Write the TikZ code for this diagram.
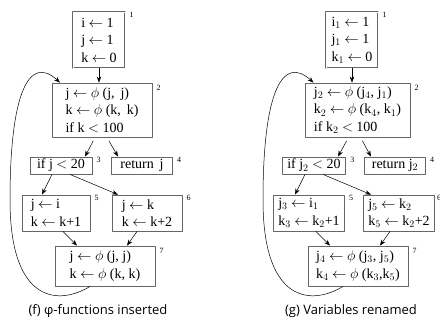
\documentclass[tikz,border=0pt]{standalone}
\usepackage{fontspec}
\setmainfont{Liberation Serif}
\newfontfamily\capfont{Open Sans}
\usetikzlibrary{arrows.meta}
\begin{document}
\begin{tikzpicture}[x=1pt, y=-1pt, line join=round, line cap=round, >={Stealth[length=6pt,width=4.5pt]},
  blk/.style={draw=black!60, line width=0.8pt, inner xsep=5pt, inner ysep=2pt, align=left,
    font=\fontsize{14}{17.5}\selectfont},
  first/.style={blk, double=white, double distance=0.7pt, line width=0.6pt},
  num/.style={anchor=north west, inner sep=0pt, font=\fontsize{8}{9}\selectfont},
  flow/.style={->, line width=0.5pt},
  captext/.style={font=\capfont\fontsize{13}{15}\selectfont}]
  \useasboundingbox (0,0) rectangle (440,325);

  % (f) phi-functions inserted
  \node[first, minimum width=52, minimum height=56] (l1) at (99,40) {i $\leftarrow$ 1\\j $\leftarrow$ 1\\k $\leftarrow$ 0};
  \node[blk, minimum width=100, minimum height=54] (l2) at (102,110) {j $\leftarrow$ $\phi$ (j,\, j)\\k $\leftarrow$ $\phi$ (k,\, k)\\if k $<$ 100};
  \node[blk, minimum width=62, minimum height=17] (l3) at (61,165.5) {if j $<$ 20};
  \node[blk, minimum width=61, minimum height=17] (l4) at (142,165.5) {return\, j};
  \node[blk, minimum width=68, minimum height=36] (l5) at (56,213) {j $\leftarrow$ i\\k $\leftarrow$ k+1};
  \node[blk, minimum width=70, minimum height=36] (l6) at (147,213) {j $\leftarrow$ k\\k $\leftarrow$ k+2};
  \node[blk, minimum width=100, minimum height=40] (l7) at (105,266) {j $\leftarrow$ $\phi$ (j, j)\\k $\leftarrow$ $\phi$ (k, k)};

  \node[num] (ln1) at ([xshift=4pt]l1.north east) {1};
  \node[num] (ln2) at ([xshift=4pt,yshift=-2pt]l2.north east) {2};
  \node[num] (ln3) at ([xshift=4pt]l3.north east) {3};
  \node[num] (ln4) at ([xshift=4pt]l4.north east) {4};
  \node[num] (ln5) at ([xshift=4pt]l5.north east) {5};
  \node[num] (ln6) at ([xshift=4pt]l6.north east) {6};
  \node[num] (ln7) at ([xshift=4pt,yshift=-2pt]l7.north east) {7};

  \draw[flow] (l1.south) -- (l1.south |- l2.north);
  \draw[flow, shorten <=4pt] ([xshift=-7pt]l2.south) -- ([xshift=24pt]l3.north);
  \draw[flow, shorten <=4pt] ([xshift=5pt]l2.south) -- ([xshift=-24pt]l4.north);
  \draw[flow] ([xshift=-9pt]l3.south) -- ([xshift=-14pt]l5.north);
  \draw[flow] ([xshift=9pt]l3.south) -- ([xshift=-29pt]l6.north);
  \draw[flow] ([xshift=7pt]l5.south) -- ([xshift=-28pt]l7.north);
  \draw[flow] ([xshift=-10pt]l6.south) -- ([xshift=22pt]l7.north);
  \draw[flow] ([xshift=-15pt]l7.south) .. controls (60,305) and (10,305) .. (10,200)
    .. controls (10,90) and (30,55) .. ([xshift=-42pt]l2.north);

  \node[captext] (lcap) at (98,311) {(f) φ-functions inserted};

  % (g) Variables renamed
  \begin{scope}[xshift=253pt]
  \node[first, minimum width=52, minimum height=56] (r1) at (99,40) {i$_1$ $\leftarrow$ 1\\j$_1$ $\leftarrow$ 1\\k$_1$ $\leftarrow$ 0};
  \node[blk, minimum width=105, minimum height=54] (r2) at (104.5,110) {j$_2$ $\leftarrow$ $\phi$ (j$_4$, j$_1$)\\k$_2$ $\leftarrow$ $\phi$ (k$_4$, k$_1$)\\if k$_2$ $<$ 100};
  \node[blk, minimum width=62, minimum height=17] (r3) at (61,165.5) {if j$_2$ $<$ 20};
  \node[blk, minimum width=61, minimum height=17] (r4) at (142,165.5) {return j$_2$};
  \node[blk, minimum width=68, minimum height=36] (r5) at (56,213) {j$_3$ $\leftarrow$ i$_1$\\k$_3$ $\leftarrow$ k$_2$+1};
  \node[blk, minimum width=70, minimum height=36] (r6) at (146,213) {j$_5$ $\leftarrow$ k$_2$\\k$_5$ $\leftarrow$ k$_2$+2};
  \node[blk, minimum width=100, minimum height=40] (r7) at (105,266) {j$_4$ $\leftarrow$ $\phi$ (j$_3$, j$_5$)\\k$_4$ $\leftarrow$ $\phi$ (k$_3$,k$_5$)};

  \node[num] (rn1) at ([xshift=4pt]r1.north east) {1};
  \node[num] (rn2) at ([xshift=4pt,yshift=-2pt]r2.north east) {2};
  \node[num] (rn3) at ([xshift=4pt]r3.north east) {3};
  \node[num] (rn4) at ([xshift=4pt]r4.north east) {4};
  \node[num] (rn5) at ([xshift=4pt]r5.north east) {5};
  \node[num] (rn6) at ([xshift=2pt]r6.north east) {6};
  \node[num] (rn7) at ([xshift=4pt,yshift=-2pt]r7.north east) {7};

  \draw[flow] (r1.south) -- (r1.south |- r2.north);
  \draw[flow, shorten <=4pt] ([xshift=-9pt]r2.south) -- ([xshift=24pt]r3.north);
  \draw[flow, shorten <=4pt] ([xshift=3pt]r2.south) -- ([xshift=-24pt]r4.north);
  \draw[flow] ([xshift=-9pt]r3.south) -- ([xshift=-14pt]r5.north);
  \draw[flow] ([xshift=9pt]r3.south) -- ([xshift=-28pt]r6.north);
  \draw[flow] ([xshift=7pt]r5.south) -- ([xshift=-28pt]r7.north);
  \draw[flow] ([xshift=-9pt]r6.south) -- ([xshift=22pt]r7.north);
  \draw[flow] ([xshift=-15pt]r7.south) .. controls (60,305) and (10,305) .. (10,200)
    .. controls (10,90) and (30,55) .. ([xshift=-44pt]r2.north);

  \node[captext] (rcap) at (98,311) {(g) Variables renamed};
  \end{scope}
\end{tikzpicture}
\end{document}
